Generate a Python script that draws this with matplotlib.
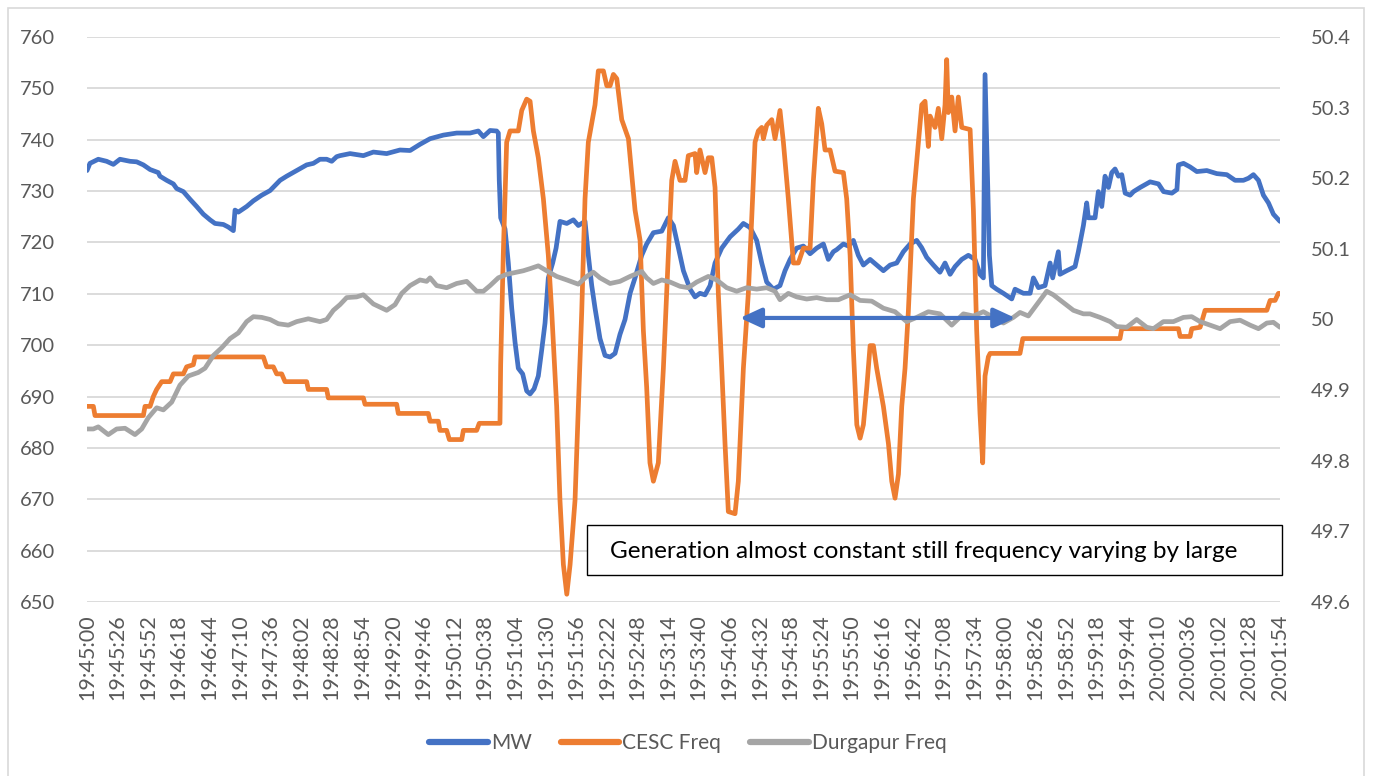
import matplotlib
matplotlib.use("Agg")
import matplotlib.pyplot as plt
from matplotlib.patches import Rectangle
from matplotlib.ticker import FuncFormatter

plt.rcParams['font.family'] = ['Lato', 'DejaVu Sans']

# ---------------- data (seconds after 19:45:00) ----------------
mw_t = [0, 2.5, 9.6, 16.7, 22.4, 28, 36.6, 42.2, 47.9, 53.6, 60.6, 62, 67.7, 73.4, 76.2, 81.9, 87.6, 93.2,
        98.9, 104.6, 108.8, 115.9, 120.1, 124.4, 125.8, 128.6, 135.7, 141.4, 148.5, 155.6, 161.2, 164.1,
        169.7, 178.2, 186.7, 192.4, 198, 203.7, 208, 212.2, 215, 223.6, 234.9, 243.4, 254.7, 266, 274.6,
        283, 291.6, 302.9, 314.2, 325.6, 332.6, 336.9, 342.6, 348.2, 349.6, 350.4, 351.6, 355.3, 358.1,
        361, 363.8, 366.6, 370.3, 373.7, 376.6, 380, 383.6, 386.5, 389.3, 392.1, 395.8, 398.7, 402,
        407.8, 413.4, 417.6, 423.3, 426.1, 429, 431.8, 436, 440.3, 444.6, 448.8, 453, 457.3, 461.6,
        465.8, 471.5, 475.7, 481.4, 488.5, 494.1, 498.4, 502.7, 506.9, 512.6, 516.8, 521, 525.3, 529.6,
        533.8, 539.5, 546.6, 553.6, 557.9, 563.6, 569.2, 573.5, 577.7, 583.4, 589, 593.3, 597.6, 603.2,
        608.9, 614.6, 620.2, 625.9, 630.1, 634.4, 637.2, 642.9, 647.1, 651.4, 655.6, 659.9, 665.6,
        671.2, 676.9, 682.6, 688.2, 693.9, 699.6, 705.2, 709.4, 713.7, 719.4, 725, 729.3, 733.6, 737.8,
        743.5, 749.1, 754.8, 759, 761.9, 763.3, 764.7, 767, 769, 773.2, 778.9, 786, 788.8, 795.9, 801.6,
        804.4, 808.7, 814.3, 818.6, 820.8, 825.6, 827, 832.7, 839.8, 842.6, 846.9, 849.7, 851.1, 856.8,
        859.6, 862.5, 865.3, 868.2, 871, 873.8, 876.7, 879.5, 882.4, 886.6, 889.5, 895.1, 903.6, 910.7,
        915, 922.1, 926.4, 927.7, 932, 937.6, 943.3, 951.8, 960.3, 968.8, 975.8, 982.9, 987.2, 991.4,
        995.7, 999.9, 1004.2, 1008.4, 1014]
mw_v = [734.0, 735.4, 736.2, 735.8, 735.2, 736.2, 735.8, 735.7, 735.1, 734.2, 733.6, 732.9, 732.1, 731.4,
        730.5, 729.9, 728.4, 727.0, 725.5, 724.4, 723.7, 723.5, 723.0, 722.3, 726.3, 725.9, 727.0, 728.1,
        729.2, 730.1, 731.4, 732.1, 732.9, 734.0, 735.1, 735.4, 736.2, 736.2, 735.8, 736.7, 736.9, 737.3,
        736.9, 737.6, 737.3, 738.0, 737.9, 739.1, 740.2, 740.9, 741.3, 741.3, 741.7, 740.6, 741.8, 741.7,
        741.3, 732.1, 724.8, 722.6, 716.0, 707.2, 700.6, 695.5, 694.4, 691.1, 690.5, 691.5, 694.0, 699.1,
        704.3, 713.1, 716.0, 718.9, 724.1, 723.7, 724.4, 723.3, 724.1, 717.5, 711.6, 707.2, 701.3, 698.0,
        697.7, 698.4, 702.1, 705.0, 710.1, 713.1, 717.5, 719.7, 721.9, 722.2, 724.8, 723.3, 718.9, 714.5,
        710.9, 709.4, 710.1, 709.8, 711.6, 716.0, 718.9, 721.1, 722.6, 723.7, 722.9, 720.4, 716.0, 712.3,
        710.9, 711.6, 714.5, 716.7, 718.9, 719.3, 717.8, 718.9, 719.7, 716.7, 718.2, 718.6, 719.7, 719.3,
        720.4, 717.5, 715.6, 716.7, 715.6, 714.5, 715.6, 716.0, 718.2, 719.7, 720.4, 719.0, 717.1, 715.6,
        714.2, 716.0, 713.8, 715.3, 716.7, 717.5, 716.7, 713.8, 713.1, 752.7, 739.5, 717.5, 711.6, 710.9,
        710.1, 709.0, 710.9, 710.1, 710.1, 713.1, 711.2, 711.6, 716.0, 713.1, 718.2, 713.8, 714.5, 715.3,
        718.2, 723.3, 727.7, 724.8, 724.8, 729.9, 727.0, 732.9, 730.7, 733.6, 734.3, 732.9, 733.2, 729.6,
        729.2, 729.9, 730.7, 731.8, 731.4, 729.9, 729.6, 730.3, 735.1, 735.4, 734.7, 733.8, 734.0, 733.4,
        733.2, 732.1, 732.1, 732.5, 733.2, 732.1, 729.2, 727.7, 725.5, 724.1]

cesc_t = [0, 5.4, 6.8, 47.9, 49.3, 53.6, 56.4, 59.2, 63.5, 70.6, 73.4, 81.9, 84.7, 90.4, 91.8, 149.9, 152.7,
          158.4, 161.2, 165.5, 168.3, 186.7, 188.1, 203.7, 205.1, 234.9, 236.3, 263.2, 264.6, 290.1, 291.6,
          298.6, 300, 305.7, 308, 318.5, 319.9, 331.2, 333.4, 351, 351.6, 353.8, 356.7, 359.6, 366.6, 369.5,
          373.7, 376.6, 379.4, 383.6, 387.9, 392.1, 395, 399.2, 402, 404.9, 407.8, 410.6, 414.8, 417.6,
          420.5, 423.3, 426.1, 431.8, 434.6, 438.9, 441.8, 444.6, 447.4, 450.3, 454.5, 460.2, 465.8, 470.1,
          472.9, 475.7, 478.5, 481.4, 485.6, 489.9, 494.1, 497, 499.8, 504, 508.3, 511.1, 516.8, 518.2, 521,
          525.3, 528.1, 531, 533.8, 536.6, 539.5, 542.3, 545.1, 550.8, 553.6, 557.9, 562.1, 565, 567.8,
          570.6, 573.5, 574.9, 577.7, 582, 584.8, 589, 591.9, 596.1, 600.4, 604.6, 608.9, 614.6, 617.4,
          621.6, 624.5, 627.3, 631.6, 635.8, 642.9, 645.7, 648.6, 651.4, 654.3, 657.1, 659.9, 662.8, 665.6,
          668.4, 671.2, 676.9, 681.2, 684, 686.8, 689.7, 692.5, 695.3, 698.1, 702.4, 706.7, 709.5, 712.3,
          715.1, 716.6, 720.8, 723.6, 726.5, 729.3, 730.7, 732.1, 735, 737.8, 740.6, 743.5, 750.6, 753.4,
          756.2, 759, 761.3, 763.3, 766.1, 767.6, 793, 795.4, 878, 879.5, 927.7, 929.1, 937.6, 939, 946.1,
          950.3, 1002.8, 1005.6, 1009.8, 1012.6, 1014]
cesc_v = [49.877, 49.877, 49.864, 49.864, 49.877, 49.877, 49.891, 49.901, 49.912, 49.912, 49.923, 49.923,
          49.933, 49.936, 49.947, 49.947, 49.933, 49.933, 49.923, 49.923, 49.912, 49.912, 49.901, 49.901,
          49.889, 49.889, 49.880, 49.880, 49.867, 49.867, 49.856, 49.856, 49.843, 49.843, 49.830, 49.830,
          49.843, 49.843, 49.853, 49.853, 49.936, 50.091, 50.251, 50.267, 50.267, 50.296, 50.312, 50.309,
          50.267, 50.229, 50.171, 50.091, 50.011, 49.877, 49.744, 49.653, 49.611, 49.653, 49.744, 49.877,
          50.011, 50.171, 50.251, 50.304, 50.352, 50.352, 50.331, 50.331, 50.347, 50.341, 50.283, 50.256,
          50.155, 50.112, 49.984, 49.904, 49.797, 49.771, 49.797, 49.931, 50.091, 50.197, 50.224, 50.197,
          50.197, 50.232, 50.235, 50.208, 50.240, 50.208, 50.229, 50.229, 50.187, 50.037, 49.931, 49.824,
          49.728, 49.725, 49.771, 49.931, 50.037, 50.144, 50.251, 50.267, 50.272, 50.256, 50.275, 50.283,
          50.256, 50.296, 50.251, 50.171, 50.080, 50.080, 50.101, 50.101, 50.197, 50.299, 50.277, 50.240,
          50.240, 50.210, 50.208, 50.171, 50.091, 49.957, 49.851, 49.832, 49.851, 49.904, 49.963, 49.963,
          49.931, 49.877, 49.824, 49.771, 49.747, 49.781, 49.877, 49.931, 50.011, 50.171, 50.251, 50.304,
          50.309, 50.245, 50.288, 50.272, 50.299, 50.256, 50.304, 50.368, 50.293, 50.315, 50.267, 50.315,
          50.272, 50.269, 50.155, 49.984, 49.867, 49.797, 49.920, 49.947, 49.952, 49.952, 49.973, 49.973,
          49.987, 49.987, 49.976, 49.976, 49.987, 49.989, 50.013, 50.013, 50.027, 50.027, 50.037, 50.037]

dgp_t = [0, 5.4, 9.6, 18.1, 25.2, 32.3, 40.8, 46.5, 52.1, 59.2, 64.9, 72, 79, 86.1, 94.6, 100.3, 107.4,
         114.5, 121.6, 128.6, 135.7, 141.4, 148.5, 155.6, 162.6, 171.1, 178.2, 188.1, 198, 203.7, 209.4,
         215, 220.7, 229.2, 234.9, 243.4, 254.7, 261.8, 267.5, 274.6, 283, 288.7, 291.6, 297.2, 305.7,
         314.2, 322.7, 331.2, 336.9, 342.6, 349.6, 356.7, 365.2, 370.8, 376.6, 383.6, 390.7, 399.2, 407.8,
         417.6, 424.7, 430.3, 436, 444.6, 453, 461.6, 471.5, 475.7, 481.4, 488.5, 495.6, 504, 511.1, 518.2,
         528.1, 535.2, 543.7, 552.2, 560.7, 569.2, 577.7, 584.8, 589, 596.1, 603.2, 611.7, 620.2, 628.7,
         638.7, 648.6, 657.1, 667, 676.9, 686.8, 696.7, 705.2, 715.1, 725, 735, 744.9, 753.4, 761.9, 770.4,
         778.9, 787.4, 793, 800.1, 807.2, 815.7, 821.3, 829.9, 838.4, 846.9, 852.5, 861, 869.6, 875.2,
         883.7, 892.2, 900.7, 906.4, 914.9, 923.4, 931.9, 939, 946.1, 954.6, 963.1, 971.6, 980.1, 988.6,
         995.7, 1002.8, 1008.4, 1014]
dgp_v = [49.845, 49.845, 49.848, 49.837, 49.845, 49.846, 49.837, 49.845, 49.861, 49.875, 49.872, 49.883,
         49.907, 49.920, 49.925, 49.931, 49.949, 49.960, 49.973, 49.981, 49.997, 50.004, 50.003, 50.000,
         49.994, 49.992, 49.997, 50.001, 49.997, 50.000, 50.013, 50.021, 50.031, 50.032, 50.035, 50.022,
         50.013, 50.021, 50.037, 50.048, 50.056, 50.054, 50.059, 50.048, 50.045, 50.051, 50.054, 50.040,
         50.040, 50.048, 50.059, 50.064, 50.067, 50.069, 50.072, 50.076, 50.069, 50.061, 50.056, 50.050,
         50.061, 50.067, 50.059, 50.051, 50.054, 50.061, 50.068, 50.059, 50.051, 50.056, 50.053, 50.047,
         50.045, 50.053, 50.061, 50.056, 50.045, 50.040, 50.045, 50.043, 50.045, 50.040, 50.028, 50.037,
         50.032, 50.029, 50.031, 50.028, 50.028, 50.035, 50.027, 50.026, 50.016, 50.011, 49.997, 50.003,
         50.011, 50.008, 49.992, 50.008, 50.005, 50.011, 50.003, 49.995, 50.003, 50.010, 50.005, 50.021,
         50.040, 50.035, 50.024, 50.013, 50.008, 50.008, 50.003, 49.997, 49.990, 49.989, 50.000, 49.989,
         49.987, 49.997, 49.997, 50.003, 50.004, 49.997, 49.992, 49.987, 49.997, 49.999, 49.992, 49.987,
         49.995, 49.996, 49.989]

tick_labels = ["19:45:00", "19:45:26", "19:45:52", "19:46:18", "19:46:44", "19:47:10", "19:47:36",
               "19:48:02", "19:48:28", "19:48:54", "19:49:20", "19:49:46", "19:50:12", "19:50:38",
               "19:51:04", "19:51:30", "19:51:56", "19:52:22", "19:52:48", "19:53:14", "19:53:40",
               "19:54:06", "19:54:32", "19:54:58", "19:55:24", "19:55:50", "19:56:16", "19:56:42",
               "19:57:08", "19:57:34", "19:58:00", "19:58:26", "19:58:52", "19:59:18", "19:59:44",
               "20:00:10", "20:00:36", "20:01:02", "20:01:28", "20:01:54"]
tick_step = 26
mw_ticks = [650, 660, 670, 680, 690, 700, 710, 720, 730, 740, 750, 760]
freq_ticks = [49.6, 49.7, 49.8, 49.9, 50.0, 50.1, 50.2, 50.3, 50.4]
series_names = ["MW", "CESC Freq", "Durgapur Freq"]
note_text = "Generation almost constant still frequency varying by large"
arrow_span = (555, 789)   # seconds
arrow_level = 705.3       # MW

# ---------------- styling ----------------
W, H = 1373, 776
BLUE, ORANGE, GREY = "#4472C4", "#ED7D31", "#A5A5A5"
TXT = "#595959"
GRID = "#D9D9D9"

fig = plt.figure(figsize=(W / 100, H / 100), dpi=100)
fig.patch.set_facecolor("white")

def fx(px):
    return px / W

def fy(py):
    return 1 - py / H

ax1 = fig.add_axes([fx(87), fy(602), fx(1280) - fx(87), fy(37) - fy(602)])
ax2 = ax1.twinx()

lw = 3.4
l1, = ax1.plot(mw_t, mw_v, color=BLUE, lw=lw, solid_joinstyle="round", solid_capstyle="round", zorder=3)
l2, = ax2.plot(cesc_t, cesc_v, color=ORANGE, lw=lw, solid_joinstyle="round", solid_capstyle="round", zorder=3)
l3, = ax2.plot(dgp_t, dgp_v, color=GREY, lw=lw, solid_joinstyle="round", solid_capstyle="round", zorder=4)

ax1.set_xlim(0, (len(tick_labels) - 1) * tick_step)
ax1.set_ylim(650, 760)
ax2.set_ylim(49.6, 50.4)
ax1.set_yticks(mw_ticks)
ax2.set_yticks(freq_ticks)
ax2.yaxis.set_major_formatter(FuncFormatter(lambda v, p: f"{round(v, 1):g}"))
ax1.set_xticks([i * tick_step for i in range(len(tick_labels))])
ax1.set_xticklabels(tick_labels, rotation=90)

ax1.grid(axis="y", color=GRID, lw=1.3, zorder=0)
ax1.set_axisbelow(True)
for a in (ax1, ax2):
    for s in a.spines.values():
        s.set_visible(False)
    a.tick_params(length=0, colors=TXT, labelsize=14.5)
ax1.tick_params(axis="y", pad=23)
ax2.tick_params(axis="y", pad=22)
ax1.tick_params(axis="x", pad=9, labelsize=15.5)
ax1.set_facecolor("none")
ax2.set_zorder(ax1.get_zorder() + 1)

# double-headed arrow annotation (drawn on top axes, in MW coordinates)
ax2.annotate("", xy=(arrow_span[0], arrow_level), xytext=(arrow_span[1], arrow_level),
             xycoords=ax1.transData, textcoords=ax1.transData,
             arrowprops=dict(arrowstyle="<|-|>,head_length=0.65,head_width=0.3", color=BLUE, lw=3,
                             shrinkA=0, shrinkB=0, mutation_scale=20), zorder=10)

# note box
fig.patches.append(Rectangle((fx(587), fy(575)), fx(1282) - fx(587), fy(525) - fy(575),
                             transform=fig.transFigure, facecolor="white", edgecolor="black",
                             lw=1.0, zorder=20))
fig.text(fx(610), fy(551), note_text, fontsize=17.5, color="black", ha="left", va="center", zorder=21)

# legend
leg = fig.legend([l1, l2, l3], series_names, loc="center", bbox_to_anchor=(fx(688), fy(743)),
                 ncol=3, frameon=False, fontsize=15, handlelength=2.8, handletextpad=0.15,
                 columnspacing=1.4, labelcolor=TXT)
for h in leg.get_lines():
    h.set_linewidth(4.5)

# chart border
fig.patches.append(Rectangle((fx(8), fy(790)), fx(1364) - fx(8), fy(8) - fy(790),
                             transform=fig.transFigure, facecolor="none", edgecolor=GRID, lw=1.2))

fig.savefig("out.png", dpi=100)
